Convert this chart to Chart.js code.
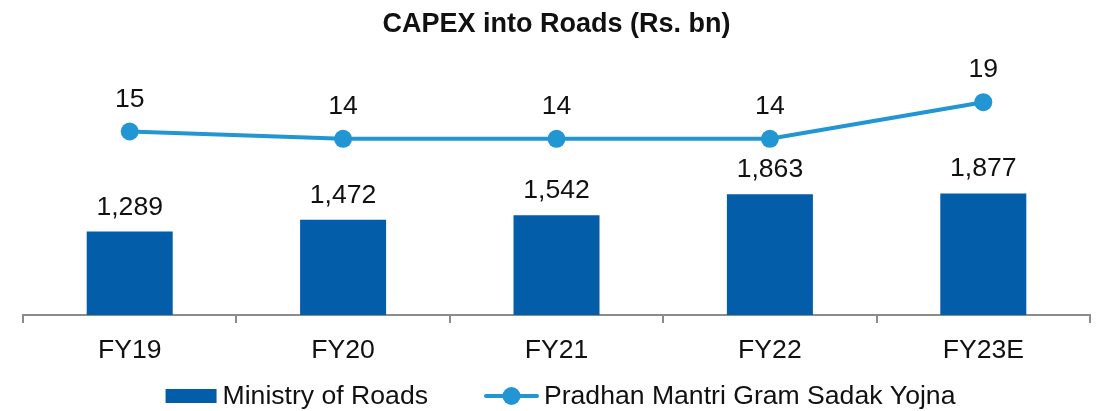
<!DOCTYPE html>
<html>
<head>
<meta charset="utf-8">
<title>CAPEX into Roads</title>
<script src="https://cdn.jsdelivr.net/npm/chart.js@4.4.1/dist/chart.umd.min.js"></script>
<style>
    html, body { margin: 0; padding: 0; background: #fff; }
    #wrap { width: 1102px; height: 411px; }
</style>
</head>
<body>
<div id="wrap"><canvas id="capexChart" width="1102" height="411"></canvas></div>
<script>
// Data
const years = ["FY19", "FY20", "FY21", "FY22", "FY23E"];
const ministryOfRoads = [1289, 1472, 1542, 1863, 1877];
const pmgsy = [15, 14, 14, 14, 19];

const FONT = '"Liberation Sans", Arial, sans-serif';
const FONT_SIZE = 26.6;
const BAR_COLOR = "#035DA8";
const LINE_COLOR = "#2196D3";
const AXIS_COLOR = "#8c8c8c";

// Value labels above bars and points
const valueLabels = {
    id: "valueLabels",
    afterDatasetsDraw(chart) {
        const ctx = chart.ctx;
        ctx.save();
        ctx.font = FONT_SIZE + "px " + FONT;
        ctx.fillStyle = "#111";
        ctx.textAlign = "center";
        ctx.textBaseline = "alphabetic";
        chart.data.datasets.forEach((ds, i) => {
            const meta = chart.getDatasetMeta(i);
            meta.data.forEach((el, j) => {
                const v = ds.data[j];
                if (ds.type === "line") {
                    ctx.fillText(String(v), el.x, el.y - 25);
                } else {
                    ctx.fillText(v.toLocaleString("en-US"), el.x, el.y - 17);
                }
            });
        });
        ctx.restore();
    }
};

// Legend drawn under the axis: box for bars, line with dot for the line series
const bottomLegend = {
    id: "bottomLegend",
    afterDraw(chart) {
        const ctx = chart.ctx;
        const ds = chart.data.datasets;
        const y = 396;
        ctx.save();
        ctx.font = FONT_SIZE + "px " + FONT;
        const w0 = ctx.measureText(ds[0].label).width;
        const w1 = ctx.measureText(ds[1].label).width;
        const total = 51 + 6 + w0 + 56 + 55 + 5 + w1;
        let x = 560.5 - total / 2;

        ctx.fillStyle = ds[0].backgroundColor;
        ctx.fillRect(x, y - 7, 51, 14);
        x += 57;
        ctx.fillStyle = "#111";
        ctx.textBaseline = "middle";
        ctx.fillText(ds[0].label, x, y + 1);
        x += w0 + 56;

        ctx.strokeStyle = ds[1].borderColor;
        ctx.lineWidth = 4;
        ctx.lineCap = "round";
        ctx.beginPath();
        ctx.moveTo(x + 2, y);
        ctx.lineTo(x + 53, y);
        ctx.stroke();
        ctx.fillStyle = ds[1].borderColor;
        ctx.beginPath();
        ctx.arc(x + 27.5, y, 9, 0, Math.PI * 2);
        ctx.fill();
        x += 60;
        ctx.fillStyle = "#111";
        ctx.fillText(ds[1].label, x, y + 1);
        ctx.restore();
    }
};

new Chart(document.getElementById("capexChart").getContext("2d"), {
    type: "bar",
    data: {
        labels: years,
        datasets: [
            {
                type: "bar",
                label: "Ministry of Roads",
                data: ministryOfRoads,
                backgroundColor: BAR_COLOR,
                barPercentage: 0.403,
                categoryPercentage: 1,
                yAxisID: "y",
                order: 2
            },
            {
                type: "line",
                label: "Pradhan Mantri Gram Sadak Yojna",
                data: pmgsy,
                borderColor: LINE_COLOR,
                backgroundColor: LINE_COLOR,
                borderWidth: 4,
                pointRadius: 9,
                pointBackgroundColor: LINE_COLOR,
                pointBorderWidth: 0,
                tension: 0,
                yAxisID: "y1",
                order: 1
            }
        ]
    },
    options: {
        responsive: false,
        animation: false,
        layout: { padding: { left: 23, right: 12, bottom: 32 } },
        plugins: {
            legend: { display: false },
            tooltip: { enabled: false },
            title: {
                display: true,
                text: "CAPEX into Roads (Rs. bn)",
                color: "#111",
                font: { family: FONT, size: 27, weight: "bold" },
                padding: { top: 8, bottom: 9 }
            }
        },
        scales: {
            x: {
                offset: true,
                grid: {
                    offset: true,
                    drawOnChartArea: false,
                    drawTicks: true,
                    tickLength: 8,
                    color: AXIS_COLOR,
                    lineWidth: 2
                },
                border: { display: true, color: AXIS_COLOR, width: 2 },
                ticks: {
                    color: "#111",
                    padding: 12,
                    font: { family: FONT, size: FONT_SIZE }
                }
            },
            y: {
                display: false,
                min: 0,
                max: 4100
            },
            y1: {
                display: false,
                position: "right",
                min: -10.04,
                max: 26.2
            }
        }
    },
    plugins: [valueLabels, bottomLegend]
});
</script>
</body>
</html>
